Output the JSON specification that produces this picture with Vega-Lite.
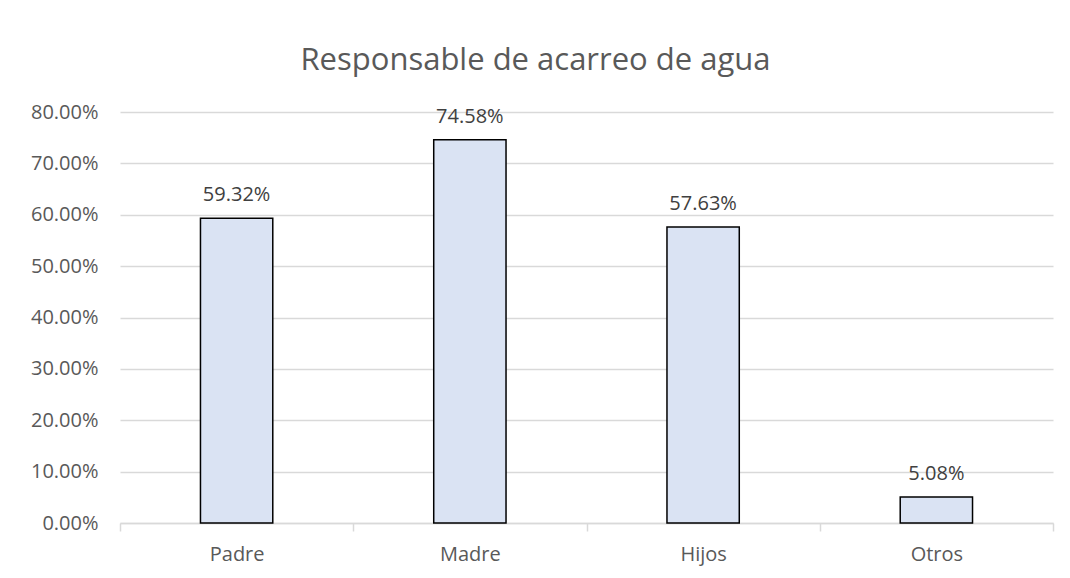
{
  "$schema": "https://vega.github.io/schema/vega-lite/v6.json",
  "autosize": {"type": "none"},
  "width": 933,
  "height": 411,
  "padding": {"left": 120, "top": 112, "right": 17, "bottom": 55},
  "background": "white",
  "title": {
    "text": "Responsable de acarreo de agua",
    "anchor": "middle",
    "frame": "group",
    "dx": -51,
    "offset": 25,
    "fontSize": 31,
    "font": "Open Sans",
    "fontWeight": "normal",
    "color": "#595959"
  },
  "data": {
    "values": [
      {"categoria": "Padre", "valor": 0.5932},
      {"categoria": "Madre", "valor": 0.7458},
      {"categoria": "Hijos", "valor": 0.5763},
      {"categoria": "Otros", "valor": 0.0508}
    ]
  },
  "encoding": {
    "x": {
      "field": "categoria",
      "type": "nominal",
      "sort": null,
      "title": null,
      "scale": {"paddingInner": 0, "paddingOuter": 0},
      "axis": {
        "labelAngle": 0,
        "labelFont": "Open Sans",
        "labelFontSize": 20,
        "labelColor": "#595959",
        "labelPadding": 13,
        "tickBand": "extent",
        "tickSize": 8,
        "tickColor": "#d9d9d9",
        "domainColor": "#d9d9d9",
        "domainWidth": 1.5,
        "tickWidth": 1.5
      }
    },
    "y": {
      "field": "valor",
      "type": "quantitative",
      "title": null,
      "scale": {"domain": [0, 0.8], "nice": false},
      "axis": {
        "format": ".2%",
        "values": [0, 0.1, 0.2, 0.3, 0.4, 0.5, 0.6, 0.7, 0.8],
        "domain": false,
        "ticks": false,
        "labelPadding": 22,
        "labelFont": "Open Sans",
        "labelFontSize": 20,
        "labelColor": "#595959",
        "gridColor": "#d9d9d9",
        "gridWidth": 1.5
      }
    }
  },
  "layer": [
    {
      "mark": {
        "type": "bar",
        "width": {"band": 0.31},
        "fill": "#dae3f3",
        "stroke": "#000000",
        "strokeWidth": 1.5
      }
    },
    {
      "mark": {
        "type": "text",
        "baseline": "bottom",
        "dy": -13,
        "font": "Open Sans",
        "fontSize": 20,
        "color": "#404040"
      },
      "encoding": {
        "text": {"field": "valor", "type": "quantitative", "format": ".2%"}
      }
    }
  ],
  "config": {"view": {"stroke": null}}
}
